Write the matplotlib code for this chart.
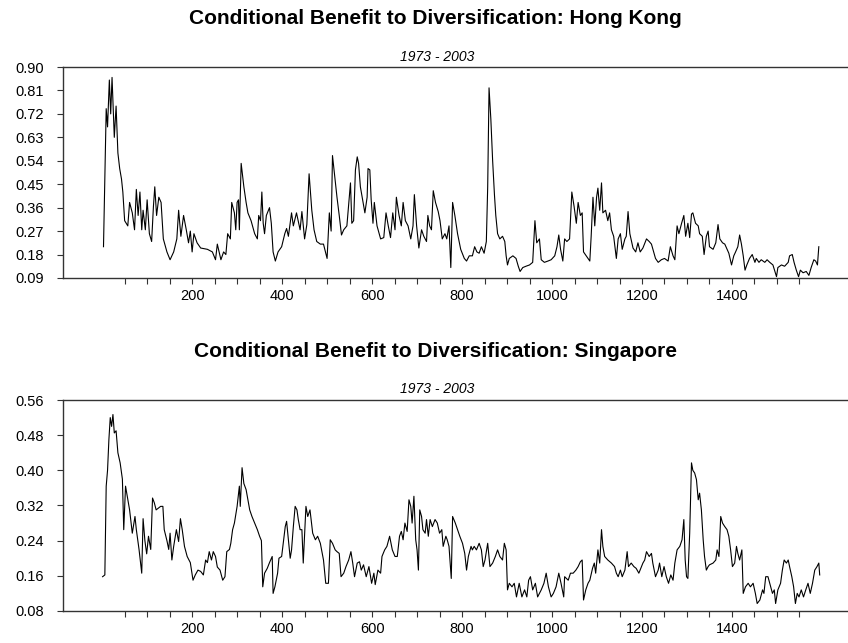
import matplotlib
matplotlib.use('Agg')
import matplotlib.pyplot as plt
from matplotlib.ticker import FixedLocator, FormatStrFormatter

plt.rcParams['font.family'] = ['Liberation Sans', 'DejaVu Sans']

hk_x = [3, 9, 12, 16, 19, 22, 27, 31, 35, 39, 43, 46, 50, 57, 61, 67, 72, 76, 80, 84,
        88, 91, 96, 100, 105, 110, 114, 117, 121, 126, 131, 136, 144, 151, 159, 166, 170, 175, 181, 187,
        192, 196, 200, 204, 211, 219, 234, 245, 252, 256, 264, 270, 275, 279, 285, 288, 294, 297, 300, 303,
        305, 309, 315, 320, 324, 331, 339, 345, 348, 352, 355, 358, 361, 365, 372, 376, 380, 385, 391, 399,
        406, 410, 414, 418, 421, 425, 432, 440, 444, 450, 455, 460, 466, 471, 477, 485, 492, 500, 505, 509,
        512, 517, 522, 527, 532, 537, 544, 552, 555, 559, 563, 567, 570, 574, 578, 584, 589, 591, 595, 598,
        602, 605, 611, 619, 626, 631, 636, 641, 646, 651, 654, 660, 665, 669, 674, 680, 686, 691, 694, 699,
        704, 710, 715, 721, 724, 728, 732, 736, 741, 747, 751, 756, 762, 766, 771, 775, 779, 784, 790, 797,
        805, 810, 816, 823, 828, 833, 838, 843, 849, 854, 857, 860, 864, 868, 872, 875, 879, 884, 890, 895,
        898, 901, 905, 913, 920, 925, 929, 935, 942, 950, 957, 962, 966, 972, 976, 983, 991, 998, 1006, 1011,
        1015, 1019, 1024, 1028, 1033, 1039, 1044, 1049, 1054, 1058, 1063, 1067, 1070, 1076, 1084, 1087, 1091, 1095, 1099, 1102,
        1106, 1110, 1113, 1119, 1124, 1128, 1132, 1137, 1143, 1147, 1152, 1156, 1162, 1165, 1169, 1173, 1180, 1186, 1191, 1196,
        1202, 1210, 1216, 1221, 1226, 1230, 1236, 1243, 1250, 1258, 1263, 1269, 1273, 1278, 1282, 1288, 1293, 1297, 1302, 1306,
        1310, 1313, 1319, 1325, 1328, 1334, 1338, 1343, 1347, 1350, 1358, 1364, 1369, 1373, 1379, 1384, 1389, 1393, 1399, 1404,
        1408, 1413, 1417, 1421, 1425, 1429, 1433, 1439, 1445, 1451, 1454, 1460, 1465, 1473, 1478, 1484, 1491, 1499, 1502, 1510,
        1517, 1525, 1528, 1534, 1538, 1543, 1548, 1552, 1558, 1565, 1571, 1576, 1582, 1586, 1590, 1593]
hk_y = [0.21, 0.74, 0.67, 0.85, 0.72, 0.86, 0.63, 0.75, 0.57, 0.51, 0.47, 0.42, 0.31, 0.29, 0.38, 0.34, 0.275, 0.43, 0.33, 0.42,
        0.275, 0.35, 0.275, 0.39, 0.26, 0.23, 0.365, 0.44, 0.33, 0.40, 0.38, 0.24, 0.19, 0.16, 0.19, 0.24, 0.35, 0.25, 0.33, 0.275,
        0.225, 0.27, 0.19, 0.26, 0.225, 0.205, 0.20, 0.19, 0.16, 0.22, 0.16, 0.19, 0.18, 0.26, 0.24, 0.38, 0.34, 0.275, 0.38, 0.39,
        0.275, 0.53, 0.44, 0.38, 0.34, 0.31, 0.26, 0.24, 0.33, 0.31, 0.42, 0.30, 0.26, 0.33, 0.36, 0.30, 0.19, 0.155, 0.19, 0.21,
        0.26, 0.28, 0.25, 0.30, 0.34, 0.29, 0.34, 0.275, 0.345, 0.24, 0.295, 0.49, 0.35, 0.275, 0.23, 0.22, 0.22, 0.165, 0.34, 0.27,
        0.56, 0.48, 0.40, 0.33, 0.255, 0.275, 0.29, 0.455, 0.30, 0.31, 0.505, 0.555, 0.53, 0.44, 0.40, 0.34, 0.40, 0.51, 0.505, 0.39,
        0.30, 0.38, 0.29, 0.24, 0.245, 0.34, 0.29, 0.245, 0.34, 0.275, 0.40, 0.33, 0.29, 0.38, 0.31, 0.29, 0.24, 0.29, 0.41, 0.29,
        0.205, 0.275, 0.25, 0.23, 0.33, 0.29, 0.275, 0.425, 0.38, 0.345, 0.31, 0.24, 0.26, 0.24, 0.29, 0.13, 0.38, 0.33, 0.26, 0.20,
        0.165, 0.155, 0.175, 0.175, 0.21, 0.19, 0.185, 0.21, 0.185, 0.23, 0.44, 0.82, 0.70, 0.54, 0.41, 0.33, 0.26, 0.24, 0.25, 0.23,
        0.175, 0.14, 0.165, 0.175, 0.165, 0.135, 0.115, 0.13, 0.135, 0.14, 0.15, 0.31, 0.225, 0.24, 0.16, 0.15, 0.155, 0.16, 0.175, 0.21,
        0.255, 0.20, 0.155, 0.24, 0.23, 0.24, 0.42, 0.365, 0.30, 0.38, 0.33, 0.34, 0.19, 0.175, 0.155, 0.25, 0.40, 0.29, 0.40, 0.435,
        0.35, 0.455, 0.34, 0.35, 0.31, 0.34, 0.275, 0.25, 0.165, 0.24, 0.26, 0.20, 0.24, 0.25, 0.345, 0.26, 0.205, 0.19, 0.225, 0.19,
        0.205, 0.24, 0.23, 0.22, 0.19, 0.165, 0.15, 0.16, 0.165, 0.155, 0.21, 0.175, 0.16, 0.29, 0.26, 0.30, 0.33, 0.25, 0.30, 0.245,
        0.335, 0.34, 0.30, 0.29, 0.26, 0.25, 0.18, 0.25, 0.27, 0.21, 0.20, 0.225, 0.295, 0.24, 0.225, 0.22, 0.20, 0.185, 0.14, 0.175,
        0.19, 0.21, 0.255, 0.22, 0.175, 0.12, 0.14, 0.165, 0.18, 0.15, 0.165, 0.15, 0.16, 0.15, 0.16, 0.15, 0.14, 0.095, 0.13, 0.14,
        0.135, 0.15, 0.175, 0.18, 0.15, 0.12, 0.095, 0.12, 0.11, 0.115, 0.10, 0.13, 0.16, 0.155, 0.14, 0.21]

sg_x = [1, 6, 9, 12, 15, 18, 21, 24, 27, 31, 35, 40, 45, 48, 52, 56, 61, 67, 73, 76,
        82, 88, 91, 95, 99, 103, 108, 112, 116, 120, 125, 130, 135, 138, 144, 148, 151, 155, 159, 165,
        170, 174, 178, 183, 189, 196, 202, 207, 213, 219, 225, 230, 234, 238, 243, 247, 252, 256, 262, 268,
        273, 277, 283, 286, 290, 294, 300, 305, 307, 311, 315, 320, 324, 328, 333, 339, 345, 350, 354, 357,
        361, 367, 372, 378, 380, 384, 390, 393, 399, 407, 410, 414, 418, 421, 425, 429, 433, 436, 440, 444,
        447, 453, 457, 462, 468, 474, 479, 485, 492, 497, 503, 507, 512, 518, 522, 527, 531, 537, 542, 548,
        553, 557, 561, 567, 572, 576, 581, 587, 593, 599, 604, 607, 613, 619, 622, 628, 633, 639, 645, 651,
        656, 661, 665, 669, 673, 678, 682, 686, 689, 693, 697, 700, 703, 706, 710, 713, 718, 721, 725, 729,
        734, 740, 745, 750, 755, 758, 764, 767, 771, 776, 779, 785, 790, 795, 801, 806, 810, 814, 820, 823,
        827, 832, 838, 843, 847, 851, 857, 862, 868, 874, 879, 884, 890, 894, 898, 901, 905, 911, 916, 921,
        927, 933, 939, 944, 948, 952, 957, 963, 968, 976, 982, 987, 992, 998, 1003, 1009, 1015, 1020, 1026, 1028,
        1036, 1041, 1047, 1053, 1058, 1063, 1067, 1070, 1075, 1080, 1084, 1090, 1094, 1097, 1102, 1106, 1110, 1113, 1117, 1124,
        1132, 1139, 1143, 1147, 1152, 1156, 1162, 1167, 1170, 1176, 1182, 1187, 1193, 1199, 1202, 1206, 1210, 1216, 1221, 1224,
        1230, 1236, 1239, 1244, 1249, 1254, 1259, 1264, 1269, 1273, 1278, 1284, 1289, 1293, 1296, 1299, 1302, 1306, 1310, 1313,
        1317, 1321, 1325, 1328, 1332, 1336, 1339, 1343, 1347, 1350, 1358, 1364, 1367, 1371, 1375, 1379, 1384, 1389, 1393, 1397,
        1401, 1406, 1410, 1413, 1417, 1422, 1425, 1430, 1436, 1441, 1447, 1452, 1456, 1462, 1468, 1471, 1475, 1480, 1484, 1490,
        1494, 1497, 1502, 1508, 1512, 1516, 1521, 1525, 1528, 1533, 1537, 1541, 1545, 1549, 1554, 1559, 1564, 1569, 1574, 1579,
        1584, 1589, 1593, 1595]
sg_y = [0.158, 0.162, 0.364, 0.40, 0.47, 0.52, 0.50, 0.527, 0.485, 0.49, 0.44, 0.417, 0.38, 0.265, 0.364, 0.34, 0.31, 0.257, 0.295, 0.265,
        0.22, 0.166, 0.29, 0.24, 0.21, 0.25, 0.22, 0.337, 0.326, 0.31, 0.314, 0.318, 0.318, 0.265, 0.24, 0.22, 0.257, 0.196, 0.227, 0.265,
        0.238, 0.29, 0.265, 0.227, 0.204, 0.19, 0.15, 0.162, 0.173, 0.17, 0.162, 0.196, 0.19, 0.215, 0.196, 0.215, 0.204, 0.18, 0.173, 0.15,
        0.158, 0.215, 0.22, 0.234, 0.265, 0.28, 0.318, 0.364, 0.318, 0.406, 0.37, 0.356, 0.333, 0.31, 0.295, 0.28, 0.265, 0.25, 0.24, 0.135,
        0.166, 0.177, 0.19, 0.204, 0.12, 0.135, 0.166, 0.20, 0.204, 0.272, 0.284, 0.242, 0.20, 0.219, 0.272, 0.318, 0.31, 0.288, 0.265, 0.265,
        0.189, 0.318, 0.295, 0.31, 0.257, 0.242, 0.25, 0.234, 0.196, 0.143, 0.143, 0.242, 0.234, 0.219, 0.215, 0.211, 0.158, 0.166, 0.181, 0.196,
        0.215, 0.189, 0.158, 0.189, 0.192, 0.173, 0.185, 0.158, 0.181, 0.143, 0.166, 0.14, 0.173, 0.166, 0.204, 0.219, 0.227, 0.25, 0.219, 0.204,
        0.204, 0.25, 0.261, 0.242, 0.28, 0.261, 0.333, 0.318, 0.28, 0.341, 0.242, 0.219, 0.173, 0.31, 0.295, 0.265, 0.257, 0.288, 0.25, 0.288,
        0.272, 0.288, 0.28, 0.257, 0.265, 0.227, 0.25, 0.242, 0.227, 0.154, 0.295, 0.28, 0.265, 0.25, 0.234, 0.211, 0.173, 0.204, 0.227, 0.219,
        0.227, 0.219, 0.234, 0.219, 0.181, 0.196, 0.234, 0.181, 0.189, 0.204, 0.219, 0.204, 0.196, 0.234, 0.219, 0.128, 0.143, 0.135, 0.143, 0.112,
        0.143, 0.112, 0.128, 0.112, 0.15, 0.158, 0.128, 0.143, 0.112, 0.128, 0.143, 0.166, 0.135, 0.112, 0.12, 0.135, 0.166, 0.143, 0.112, 0.158,
        0.15, 0.166, 0.166, 0.173, 0.181, 0.192, 0.196, 0.105, 0.128, 0.143, 0.15, 0.177, 0.189, 0.166, 0.219, 0.189, 0.265, 0.227, 0.204, 0.196,
        0.189, 0.181, 0.166, 0.158, 0.173, 0.158, 0.173, 0.215, 0.181, 0.189, 0.181, 0.177, 0.166, 0.181, 0.189, 0.196, 0.215, 0.204, 0.211, 0.189,
        0.158, 0.173, 0.189, 0.158, 0.181, 0.158, 0.143, 0.162, 0.15, 0.189, 0.219, 0.227, 0.242, 0.288, 0.196, 0.158, 0.154, 0.257, 0.417, 0.40,
        0.394, 0.379, 0.333, 0.348, 0.31, 0.242, 0.204, 0.173, 0.181, 0.185, 0.189, 0.196, 0.219, 0.204, 0.295, 0.28, 0.272, 0.265, 0.25, 0.219,
        0.181, 0.189, 0.227, 0.211, 0.196, 0.219, 0.12, 0.135, 0.143, 0.135, 0.143, 0.12, 0.097, 0.105, 0.128, 0.12, 0.158, 0.158, 0.143, 0.12,
        0.128, 0.097, 0.128, 0.143, 0.173, 0.196, 0.189, 0.196, 0.181, 0.158, 0.135, 0.097, 0.12, 0.112, 0.128, 0.112, 0.128, 0.143, 0.12, 0.143,
        0.173, 0.181, 0.189, 0.162]

panels = [
    ('Conditional Benefit to Diversification: Hong Kong', hk_x, hk_y, 0.09, 0.90, 0.09),
    ('Conditional Benefit to Diversification: Singapore', sg_x, sg_y, 0.08, 0.56, 0.08),
]
subtitle = '1973 - 2003'
major_ticks = [200, 400, 600, 800, 1000, 1200, 1400]
minor_ticks = list(range(50, 1600, 50))

fig = plt.figure(figsize=(8.48, 6.43), dpi=100)
axes_pos = [[0.0743, 0.5677, 0.93, 0.3281], [0.0743, 0.0498, 0.93, 0.3281]]
title_y = [(0.972, 0.912), (0.454, 0.395)]

for (title, xs, ys, ymin, ymax, ystep), pos, (ty, sy) in zip(panels, axes_pos, title_y):
    ax = fig.add_axes(pos)
    ax.plot(xs, ys, color='black', linewidth=0.8)
    ax.set_xlim(-87, 1666)
    ax.set_ylim(ymin, ymax)
    n = int(round((ymax - ymin) / ystep))
    ax.set_yticks([round(ymin + i * ystep, 2) for i in range(n + 1)])
    ax.yaxis.set_major_formatter(FormatStrFormatter('%.2f'))
    ax.xaxis.set_major_locator(FixedLocator(major_ticks))
    ax.xaxis.set_minor_locator(FixedLocator([t for t in minor_ticks if t not in major_ticks]))
    ax.tick_params(axis='both', which='both', direction='out', length=4, width=0.8,
                   color='#333333', labelsize=10.5, labelcolor='black')
    ax.tick_params(axis='y', pad=10)
    ax.tick_params(axis='x', pad=4)
    for side in ['left', 'bottom', 'top']:
        ax.spines[side].set_color('#333333')
        ax.spines[side].set_linewidth(1.0)
    ax.spines['right'].set_visible(False)
    fig.text(0.513, ty, title, ha='center', va='center', fontsize=15, fontweight='bold')
    fig.text(0.515, sy, subtitle, ha='center', va='center', fontsize=10, style='italic')

fig.savefig('out.png', dpi=100)
